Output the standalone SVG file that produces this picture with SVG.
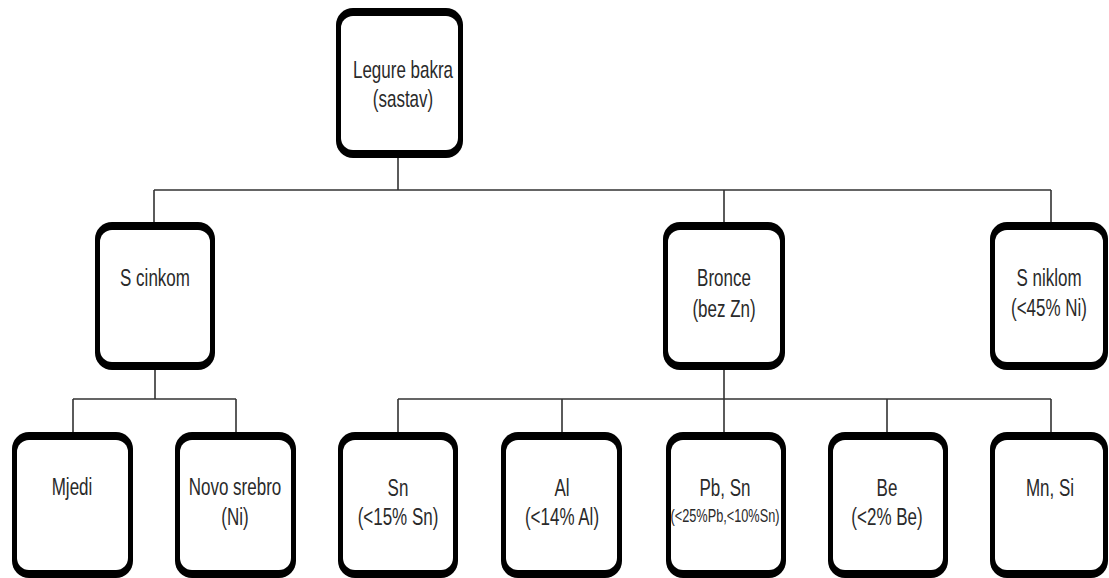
<svg xmlns="http://www.w3.org/2000/svg" width="1109" height="578" viewBox="0 0 1109 578">
<style>
.o{fill:#000}
.i{fill:#fff}
.t{font-family:"Liberation Sans",Arial,sans-serif;font-size:20px;fill:#2a2a2a;text-anchor:middle}
.s{font-size:15px}
.c{stroke:#333;stroke-width:1.6;fill:none}
</style>
<rect width="1109" height="578" fill="#fff"/>
<g id="connectors">
<path class="c" d="M398 158V190M154 190H1051M154 190V222M724 190V222M1051 190V222"/>
<path class="c" d="M155 370V399M73 399H236M73 399V432M236 399V432"/>
<path class="c" d="M724 370V399M398 399H1051M398 399V432M562 399V432M724 399V432M887 399V432M1051 399V432"/>
</g>
<g id="n-top"><rect class="o" x="336" y="8" width="127" height="150" rx="17"/><rect class="i" x="341" y="16" width="117" height="134" rx="12"/>
<text class="t" transform="translate(403 78) scale(0.85 1.2)">Legure bakra</text><text class="t" transform="translate(403 107) scale(0.85 1.2)">(sastav)</text></g>
<g id="n-scinkom"><rect class="o" x="95" y="222" width="120" height="148" rx="17"/><rect class="i" x="100" y="230" width="110" height="132" rx="12"/>
<text class="t" transform="translate(155 286) scale(0.85 1.2)">S cinkom</text></g>
<g id="n-bronce"><rect class="o" x="663" y="222" width="122" height="148" rx="17"/><rect class="i" x="668" y="230" width="112" height="132" rx="12"/>
<text class="t" transform="translate(724 286) scale(0.85 1.2)">Bronce</text><text class="t" transform="translate(724 317) scale(0.85 1.2)">(bez Zn)</text></g>
<g id="n-sniklom"><rect class="o" x="990" y="222" width="118" height="148" rx="17"/><rect class="i" x="995" y="230" width="108" height="132" rx="12"/>
<text class="t" transform="translate(1049 286) scale(0.85 1.2)">S niklom</text><text class="t" transform="translate(1049 316) scale(0.85 1.2)">(&lt;45% Ni)</text></g>
<g id="n-mjedi"><rect class="o" x="12" y="432" width="121" height="146" rx="17"/><rect class="i" x="17" y="440" width="111" height="130" rx="12"/>
<text class="t" transform="translate(72 495) scale(0.85 1.2)">Mjedi</text></g>
<g id="n-novo"><rect class="o" x="175" y="432" width="121" height="146" rx="17"/><rect class="i" x="180" y="440" width="111" height="130" rx="12"/>
<text class="t" transform="translate(235 495) scale(0.85 1.2)">Novo srebro</text><text class="t" transform="translate(235 525) scale(0.85 1.2)">(Ni)</text></g>
<g id="n-sn"><rect class="o" x="338" y="432" width="120" height="146" rx="17"/><rect class="i" x="343" y="440" width="110" height="130" rx="12"/>
<text class="t" transform="translate(398 496) scale(0.85 1.2)">Sn</text><text class="t" transform="translate(398 525) scale(0.85 1.2)">(&lt;15% Sn)</text></g>
<g id="n-al"><rect class="o" x="501" y="432" width="121" height="146" rx="17"/><rect class="i" x="506" y="440" width="111" height="130" rx="12"/>
<text class="t" transform="translate(562 496) scale(0.85 1.2)">Al</text><text class="t" transform="translate(562 525) scale(0.85 1.2)">(&lt;14% Al)</text></g>
<g id="n-pbsn"><rect class="o" x="666" y="432" width="120" height="146" rx="17"/><rect class="i" x="671" y="440" width="110" height="130" rx="12"/>
<text class="t" transform="translate(725 496) scale(0.85 1.2)">Pb, Sn</text><text class="t s" transform="translate(725 522) scale(0.85 1.2)">(&lt;25%Pb,&lt;10%Sn)</text></g>
<g id="n-be"><rect class="o" x="828" y="432" width="120" height="146" rx="17"/><rect class="i" x="833" y="440" width="110" height="130" rx="12"/>
<text class="t" transform="translate(887 496) scale(0.85 1.2)">Be</text><text class="t" transform="translate(887 525) scale(0.85 1.2)">(&lt;2% Be)</text></g>
<g id="n-mnsi"><rect class="o" x="990" y="432" width="118" height="146" rx="17"/><rect class="i" x="995" y="440" width="108" height="130" rx="12"/>
<text class="t" transform="translate(1050 496) scale(0.85 1.2)">Mn, Si</text></g>
</svg>
